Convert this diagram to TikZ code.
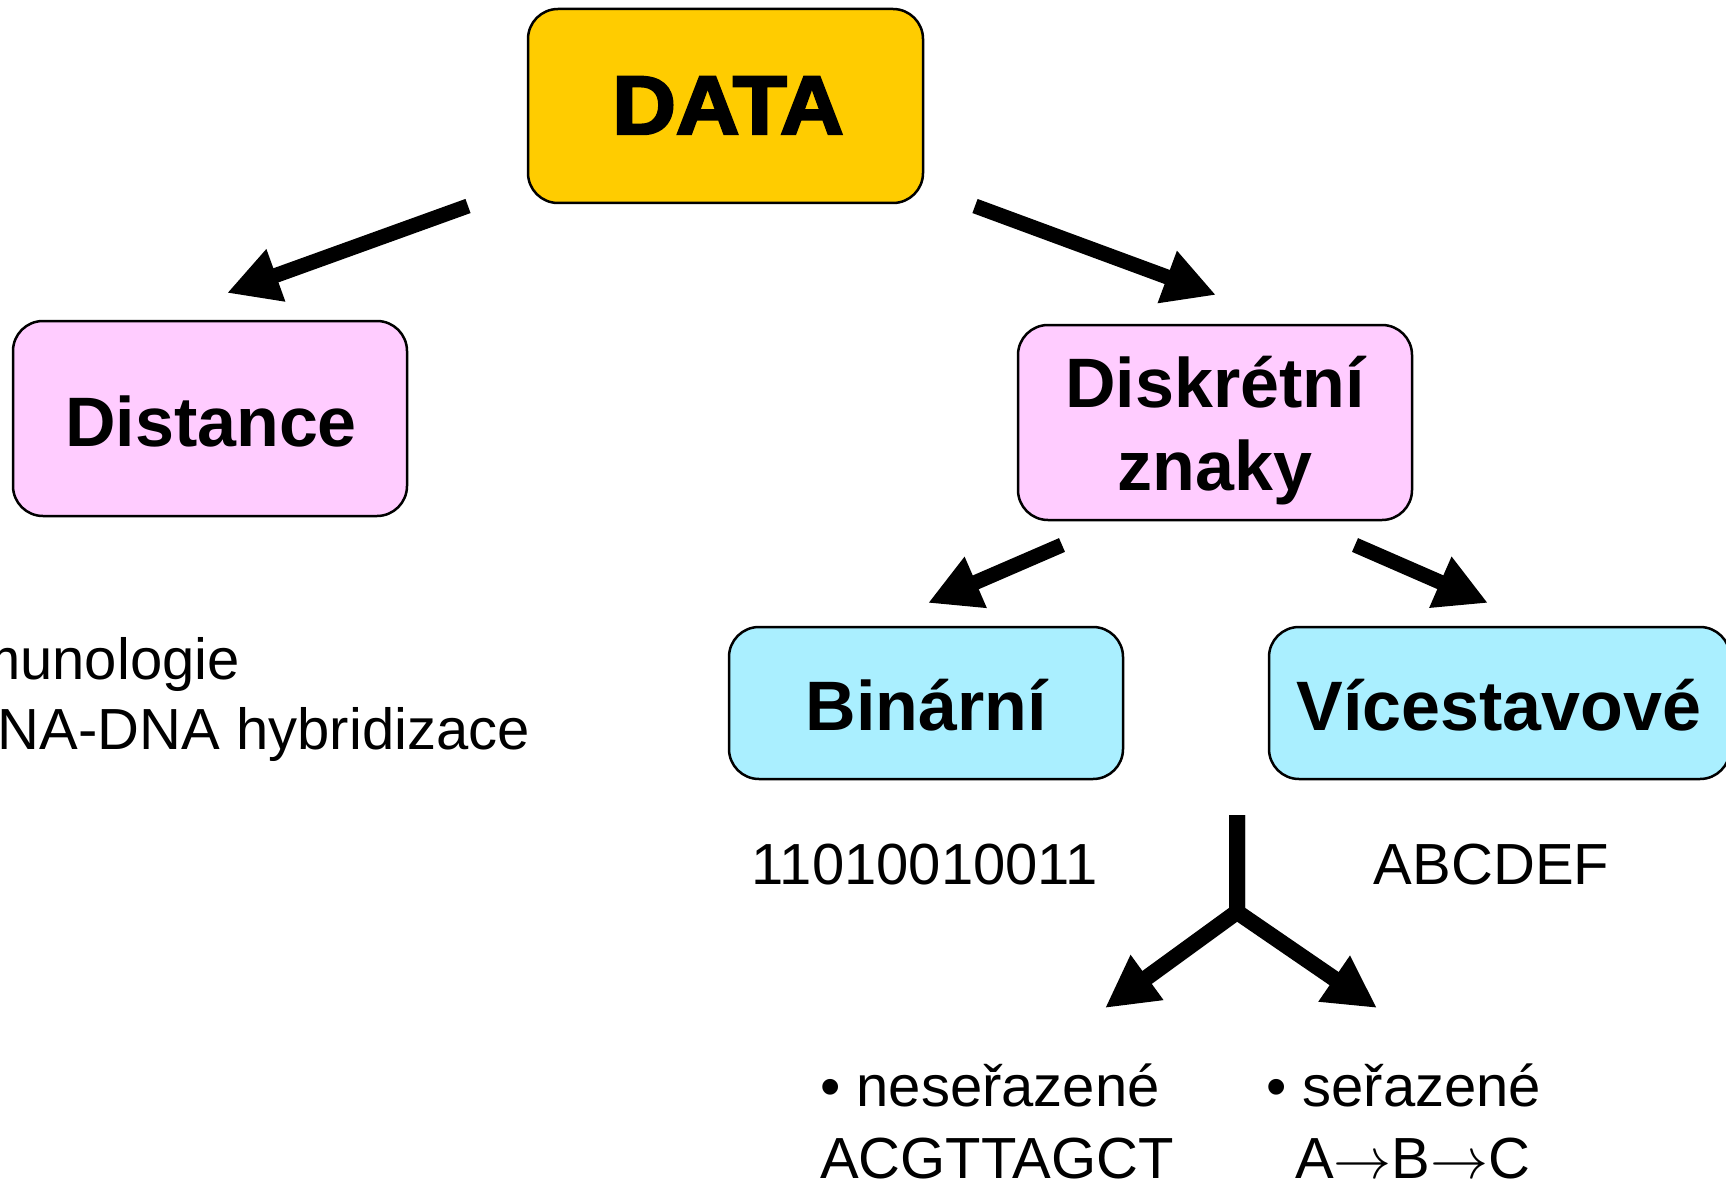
\documentclass[tikz,border=0pt]{standalone}
\usepackage{fontspec}
\usepackage{graphicx}
\setmainfont{Liberation Sans}
\newfontfamily\heavyfont[FakeBold=3]{Liberation Sans Bold}
\usetikzlibrary{arrows.meta}
\definecolor{datayellow}{HTML}{FFCC00}
\definecolor{boxpink}{HTML}{FFCCFF}
\definecolor{boxcyan}{HTML}{AAEFFF}
\newcommand{\seqarrow}{\scalebox{5.8}{\normalsize$\rightarrow$}}
\begin{document}
\begin{tikzpicture}[x=1pt,y=-1pt,
  box/.style={draw=black, line width=2.5pt, rounded corners=30pt, inner sep=0pt},
  big/.style={font=\fontsize{70}{83}\selectfont\bfseries, anchor=base, inner sep=0pt},
  plain/.style={font=\fontsize{58}{68}\selectfont, inner sep=0pt},
  thickarrow/.style={line width=15pt, line join=miter, -{Triangle[length=52pt,width=52pt]}}]
\useasboundingbox (0,0) rectangle (1726,1182);

% boxes
\node[box, fill=datayellow, minimum width=395pt, minimum height=194pt] (data) at (725.5,106) {};
\node[box, fill=boxpink, minimum width=394pt, minimum height=195pt] (dist) at (210,418.5) {};
\node[box, fill=boxpink, minimum width=394pt, minimum height=195pt] (disk) at (1215,422.5) {};
\node[box, fill=boxcyan, minimum width=394pt, minimum height=152pt] (bin) at (926,703) {};
\node[box, fill=boxcyan, minimum width=461pt, minimum height=152pt] (vic) at (1499.5,703) {};

% box texts
\node[anchor=base, inner sep=0pt, font=\fontsize{83}{83}\selectfont\heavyfont] (dataT) at (728,134) {\scalebox{1.06}[1]{DATA}};
\node[big] (distT) at (211,446) {Distance};
\node[big] (diskT1) at (1215,407) {Diskrétní};
\node[big] (diskT2) at (1215,490) {znaky};
\node[big] (binT) at (926.5,730) {Binární};
\node[big] (vicT) at (1499,730) {Vícestavové};

% plain texts
\node[plain, anchor=base east] (imu) at (240,679) {Imunologie};
\node[plain, anchor=base east] (dna) at (530,749) {DNA-DNA hybridizace};
\node[plain, anchor=base] (binEx) at (925,884) {11010010011};
\node[plain, anchor=base] (vicEx) at (1491.5,884) {ABCDEF};
\node[plain, anchor=base west] (neser) at (820,1106) {• neseřazené};
\node[plain, anchor=base west] (neserEx) at (820,1178) {ACGTTAGCT};
\node[plain, anchor=base west] (ser) at (1266,1106) {• seřazené};
\node[plain, anchor=base west] (serEx) at (1295,1178) {A\seqarrow B\seqarrow C};

% arrow end points
\coordinate (a1s) at (468,206);
\coordinate (a1e) at (227,293);
\coordinate (a2s) at (975,206);
\coordinate (a2e) at (1216,295);
\coordinate (a3s) at (1062,545);
\coordinate (a3e) at (928,603);
\coordinate (a4s) at (1355,545);
\coordinate (a4e) at (1488,603);
\coordinate (ftop) at (1237,815);
\coordinate (fjun) at (1237,912);
\coordinate (fl) at (1105,1008);
\coordinate (fr) at (1377,1008);

\draw[thickarrow] (a1s) -- (a1e);
\draw[thickarrow] (a2s) -- (a2e);
\draw[thickarrow] (a3s) -- (a3e);
\draw[thickarrow] (a4s) -- (a4e);
\draw[thickarrow, line width=16pt] (ftop) -- (fjun) -- (fl);
\draw[thickarrow, line width=16pt] (ftop) -- (fjun) -- (fr);
\end{tikzpicture}
\end{document}
